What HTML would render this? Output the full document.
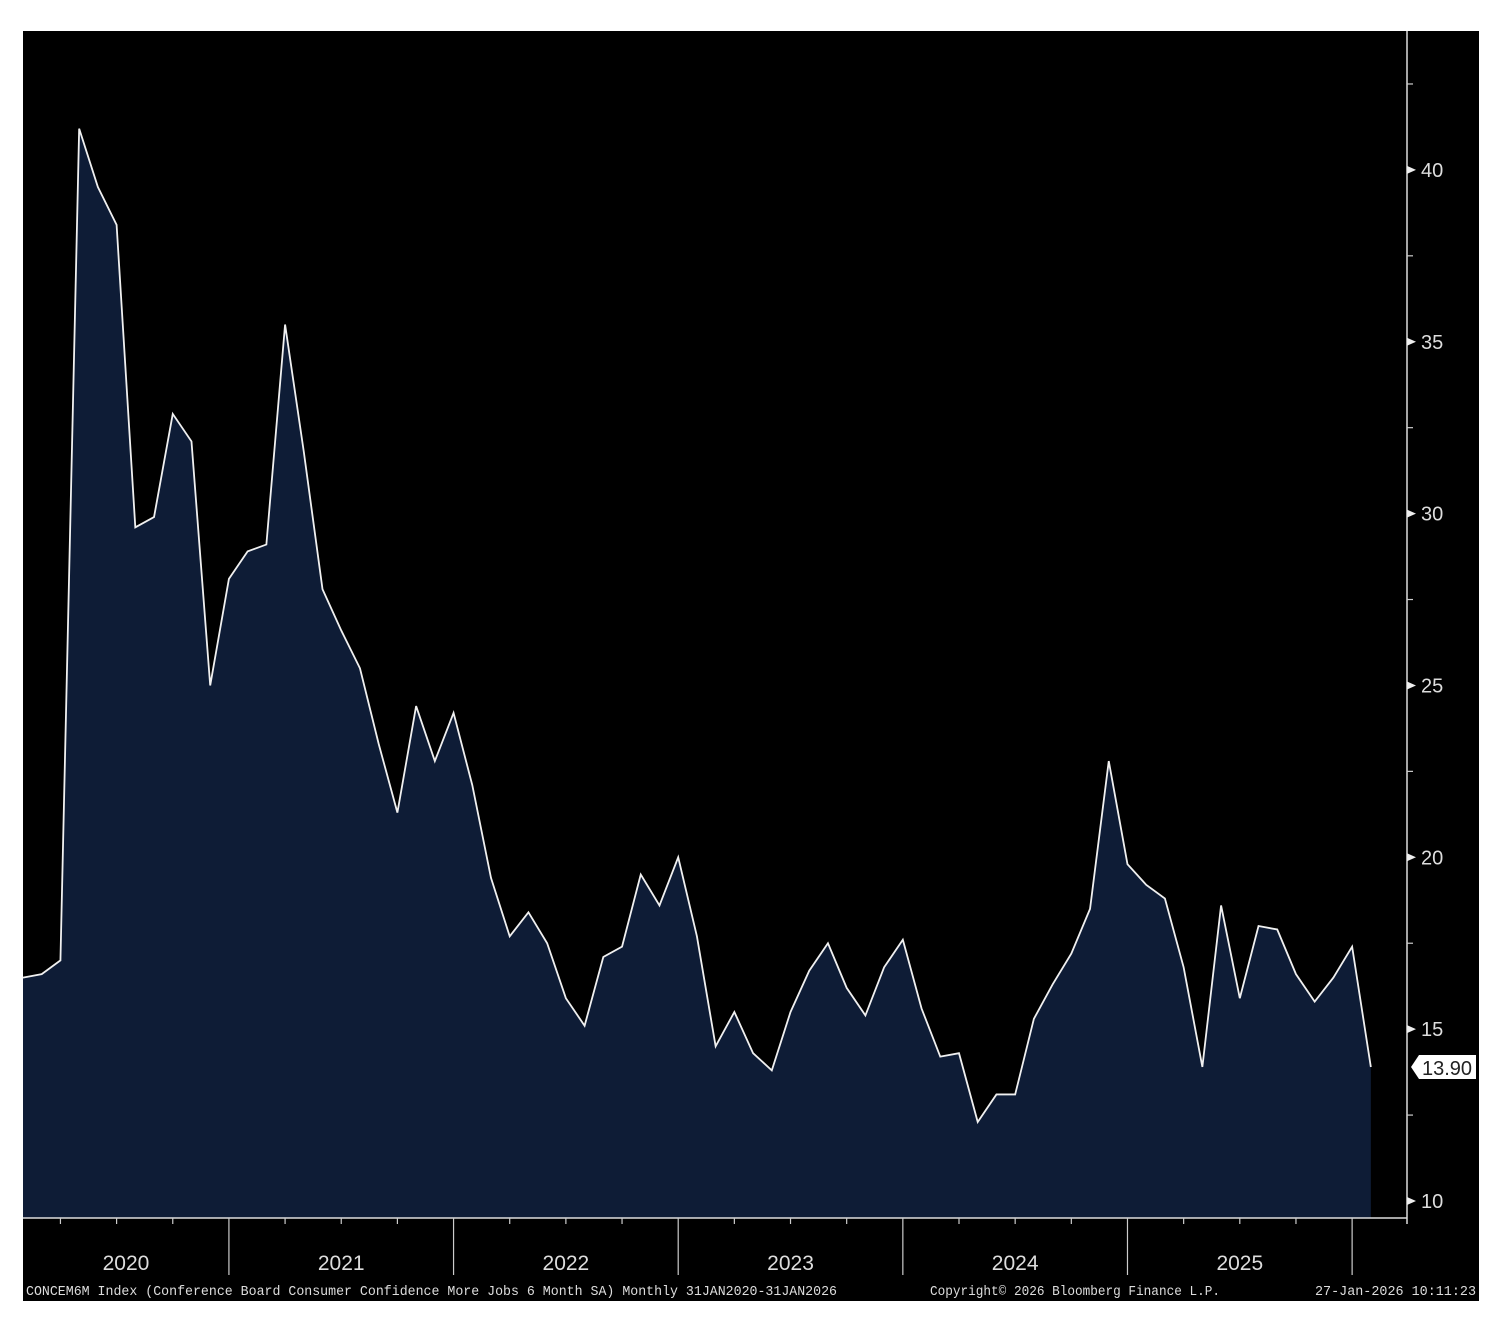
<!DOCTYPE html>
<html><head><meta charset="utf-8"><style>
html,body{margin:0;padding:0;background:#fff;}
svg{display:block;}
</style></head><body>
<svg id="chart" width="1492" height="1322" xmlns="http://www.w3.org/2000/svg" font-family="Liberation Sans, sans-serif">
<rect x="23" y="31" width="1456" height="1270" fill="#000"/>
<g id="plot"></g>
</svg>
<script>
const values=[16.5,16.6,17.0,41.2,39.5,38.4,29.6,29.9,32.9,32.1,25.0,28.1,28.9,29.1,35.5,31.8,27.8,26.6,25.5,23.3,21.3,24.4,22.8,24.2,22.1,19.4,17.7,18.4,17.5,15.9,15.1,17.1,17.4,19.5,18.6,20.0,17.7,14.5,15.5,14.3,13.8,15.5,16.7,17.5,16.2,15.4,16.8,17.6,15.6,14.2,14.3,12.3,13.1,13.1,15.3,16.3,17.2,18.5,22.8,19.8,19.2,18.8,16.8,13.9,18.6,15.9,18.0,17.9,16.6,15.8,16.5,17.4,13.9];
const years=["2020","2021","2022","2023","2024","2025"];
const yTicks=[10,15,20,25,30,35,40];
const lastLabel="13.90";
const NS="http://www.w3.org/2000/svg";
const g=document.getElementById('plot');
const X0=23,STEP=18.72,YB=1218,AX=1407;
const xs=i=>X0+i*STEP;
const ys=v=>1201-(v-10)*34.37;
function mk(t,a,p){const e=document.createElementNS(NS,t);for(const k in a)e.setAttribute(k,a[k]);(p||g).appendChild(e);return e;}
let d='M'+xs(0)+','+YB;values.forEach((v,i)=>d+=' L'+xs(i)+','+ys(v));d+=' L'+xs(values.length-1)+','+YB+' Z';
const area=mk('path',{d:d,fill:'#0e1c36'});


let ld='';values.forEach((v,i)=>ld+=(i?' L':'M')+xs(i)+','+ys(v));
const line=mk('path',{d:ld,fill:'none',stroke:'#f0f0f0','stroke-width':1.8});


const xa=mk('line',{x1:23,y1:YB,x2:AX,y2:YB,stroke:'#ddd','stroke-width':1.5});


const ya=mk('line',{x1:AX,y1:31,x2:AX,y2:YB+6,stroke:'#ddd','stroke-width':1.5});


for(let m=2;m<values.length;m+=3){
  const yr=(m+1)%12===0;
  const t=mk('line',{x1:xs(m),y1:YB,x2:xs(m),y2:yr?1275:1224,stroke:'#ccc','stroke-width':1.2});
  
  
}
years.forEach((y,i)=>{
  const cx=i===0?(23+xs(11))/2:xs(i*12+5);
  const t=mk('text',{x:cx,y:1270,fill:'#ddd','font-size':21,'text-anchor':'middle'});
  t.textContent=y;
  
  
});
yTicks.forEach(v=>{
  const y=ys(v);
  const p=mk('path',{d:`M${AX},${y-4} L${AX+9},${y} L${AX},${y+4} Z`,fill:'#eee'});
  
  
  const t=mk('text',{x:AX+14,y:y+7,fill:'#ddd','font-size':20});
  t.textContent=v;
  
  
  const mn=mk('line',{x1:AX,y1:ys(v+2.5),x2:AX+6,y2:ys(v+2.5),stroke:'#ccc','stroke-width':1.2});
  
  
});
const ly=ys(values[values.length-1]);
const lb=mk('path',{d:`M${AX+4},${ly} L${AX+12},${ly-12} L1476,${ly-12} L1476,${ly+12} L${AX+12},${ly+12} Z`,fill:'#fff'});


const lt=mk('text',{x:AX+15,y:ly+8,fill:'#222','font-size':20});
lt.textContent=lastLabel;


const foot=[["CONCEM6M Index (Conference Board Consumer Confidence More Jobs 6 Month SA) Monthly 31JAN2020-31JAN2026",26,811],["Copyright© 2026 Bloomberg Finance L.P.",930,290],["27-Jan-2026 10:11:23",1315,161]];
foot.forEach(f=>{
  const t=mk('text',{x:f[1],y:1295,fill:'#ddd','font-size':13.5,'font-family':'Liberation Mono, monospace',textLength:f[2],lengthAdjust:'spacingAndGlyphs'});
  t.textContent=f[0];
  
  
});
</script>
</body></html>
